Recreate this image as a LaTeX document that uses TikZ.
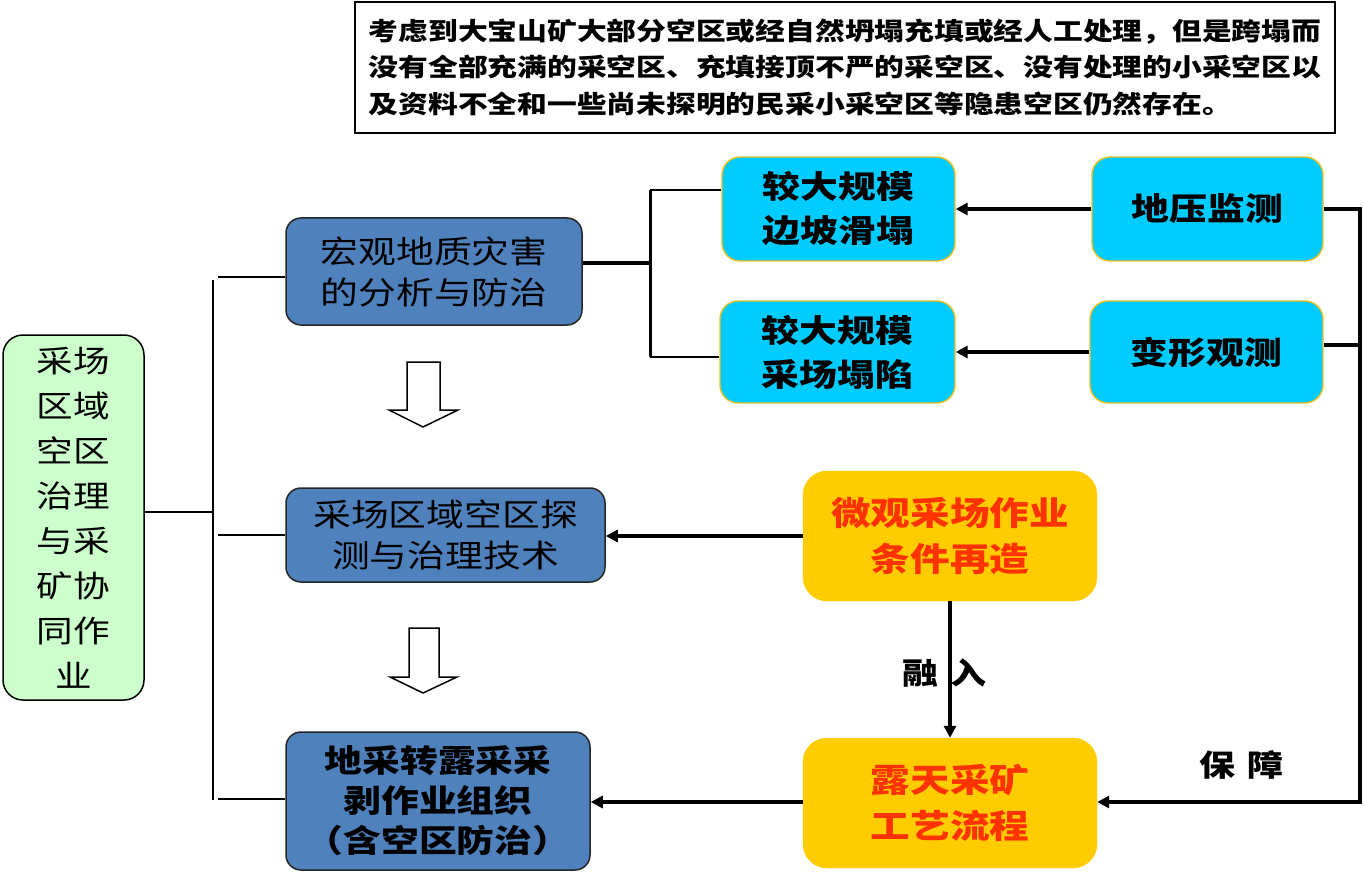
\documentclass[tikz,border=0pt]{standalone}
\usepackage{fontspec}
\newfontfamily\cjk[FakeStretch=1.2]{Noto Sans CJK SC}
\usetikzlibrary{arrows.meta}
\definecolor{bluebox}{HTML}{4F81BD}
\definecolor{cyanbox}{HTML}{00CCFF}
\definecolor{orangebox}{HTML}{FFCC00}
\definecolor{greenbox}{HTML}{CCFFCC}
\definecolor{redtext}{HTML}{FF3300}
\definecolor{goldline}{HTML}{F0C020}
\tikzset{
  box/.style={rectangle, inner sep=0pt, align=center, anchor=center},
  bluestyle/.style={box, fill=bluebox, draw=black!85, line width=1.5pt, rounded corners=15pt},
  cyanstyle/.style={box, fill=cyanbox, draw=goldline, line width=1.4pt, rounded corners=18pt,
    font=\cjk\bfseries\fontsize{31.5}{44}\selectfont},
  orangestyle/.style={box, fill=orangebox, draw=orangebox, rounded corners=24pt,
    text=redtext, font=\cjk\bfseries\fontsize{33}{46}\selectfont},
  thinline/.style={line width=2pt},
  thickline/.style={line width=3.5pt},
  arr/.style={line width=3.5pt, -{Triangle[length=12pt,width=12pt]}},
  hollow/.style={draw=black, line width=1.5pt, fill=white},
}
\begin{document}
\begin{tikzpicture}[x=1pt,y=-1pt]
\useasboundingbox (0,0) rectangle (1364,874);
% top text box
\node[box, draw=black, line width=1.5pt, minimum width=980pt, minimum height=131pt,
  font=\cjk\bfseries\fontsize{24.8}{36.5}\selectfont, align=left] (note) at (845,67.5)
  {考虑到大宝山矿大部分空区或经自然坍塌充填或经人工处理，但是跨塌而\\
   没有全部充满的采空区、充填接顶不严的采空区、没有处理的小采空区以\\
   及资料不全和一些尚未探明的民采小采空区等隐患空区仍然存在。};
% left green box
\node[box, fill=greenbox, draw=black, line width=1.5pt, rounded corners=20pt,
  minimum width=141pt, minimum height=365pt, font=\cjk\fontsize{30.5}{45}\selectfont]
  (green) at (73.5,517.5)
  {采场\\区域\\空区\\治理\\与采\\矿协\\同作\\业};
% blue boxes
\node[bluestyle, minimum width=296pt, minimum height=107pt, font=\cjk\fontsize{31.5}{41}\selectfont]
  (b1) at (434,271.5) {宏观地质灾害\\的分析与防治};
\node[bluestyle, minimum width=319pt, minimum height=94pt, font=\cjk\fontsize{31.5}{41}\selectfont]
  (b2) at (445.5,535) {采场区域空区探\\测与治理技术};
\node[bluestyle, minimum width=304pt, minimum height=138pt, font=\cjk\bfseries\fontsize{31.5}{40}\selectfont]
  (b3) at (438,801) {地采转露采采\\剥作业组织\\（含空区防治）};
% cyan boxes
\node[cyanstyle, minimum width=233pt, minimum height=104pt] (cA) at (838.5,209) {较大规模\\边坡滑塌};
\node[cyanstyle, minimum width=235pt, minimum height=102pt] (cB) at (837.5,352) {较大规模\\采场塌陷};
\node[cyanstyle, minimum width=231pt, minimum height=104pt] (cC) at (1207.5,209) {地压监测};
\node[cyanstyle, minimum width=233pt, minimum height=102pt] (cD) at (1206.5,352) {变形观测};
% orange boxes
\node[orangestyle, minimum width=294pt, minimum height=130pt] (o1) at (950,536) {微观采场作业\\条件再造};
\node[orangestyle, minimum width=294pt, minimum height=130pt] (o2) at (950,803) {露天采矿\\工艺流程};
% bus coordinates
\coordinate (busTop) at (213,280);
\coordinate (busBot) at (213,800);
\coordinate (busMid) at (213,512);
\coordinate (br1) at (218,277);
\coordinate (br2) at (218,535);
\coordinate (br3) at (218,799);
\draw[thinline] (busTop) -- (busBot);
\draw[line width=2.2pt] (busMid -| green.east) -- (busMid);
\draw[thinline] (br1) -- (br1 -| b1.west);
\draw[thinline] (br2) -- (br2 -| b2.west);
\draw[thinline] (br3) -- (br3 -| b3.west);
% bracket to cyan boxes
\coordinate (brk) at (650,263);
\coordinate (brkT) at (650,190);
\coordinate (brkB) at (650,357);
\draw[thickline] (brk -| b1.east) -- (brk);
\draw[line width=3pt] (brkT) -- (brkB);
\draw[thinline] (brkT) -- (brkT -| cA.west);
\draw[thinline] (brkB) -- (brkB -| cB.west);
% arrows from monitoring
\draw[arr] (cC.west) -- (cA.east);
\draw[arr] (cD.west) -- (cB.east);
% right feedback line
\coordinate (rT) at (1360,209);
\coordinate (rM) at (1360,345);
\coordinate (rB) at (1360,802);
\draw[thickline] (cD.east |- rM) -- (rM);
\draw[arr] (cC.east) -- (rT) -- (rB) -- (rB -| o2.east);
% orange to blue
\draw[arr] (o1.west) -- (o1.west -| b2.east);
\draw[arr] (rB -| o2.west) -- (rB -| b3.east);
\draw[arr] (o1.south) -- (o2.north);
% labels
\node[box, font=\cjk\bfseries\fontsize{30}{30}\selectfont] (ronru) at (944,673) {融\hspace{12pt}入};
\node[box, font=\cjk\bfseries\fontsize{30}{30}\selectfont] (baozhang) at (1241,765) {保\hspace{12pt}障};
% hollow arrows
\draw[hollow] (407,362) -- (440,362) -- (440,410) -- (458,410) -- (423,427) -- (389,410) -- (407,410) -- cycle;
\draw[hollow] (409,628) -- (439,628) -- (439,677) -- (457,677) -- (423,693) -- (390,677) -- (409,677) -- cycle;
\end{tikzpicture}
\end{document}
